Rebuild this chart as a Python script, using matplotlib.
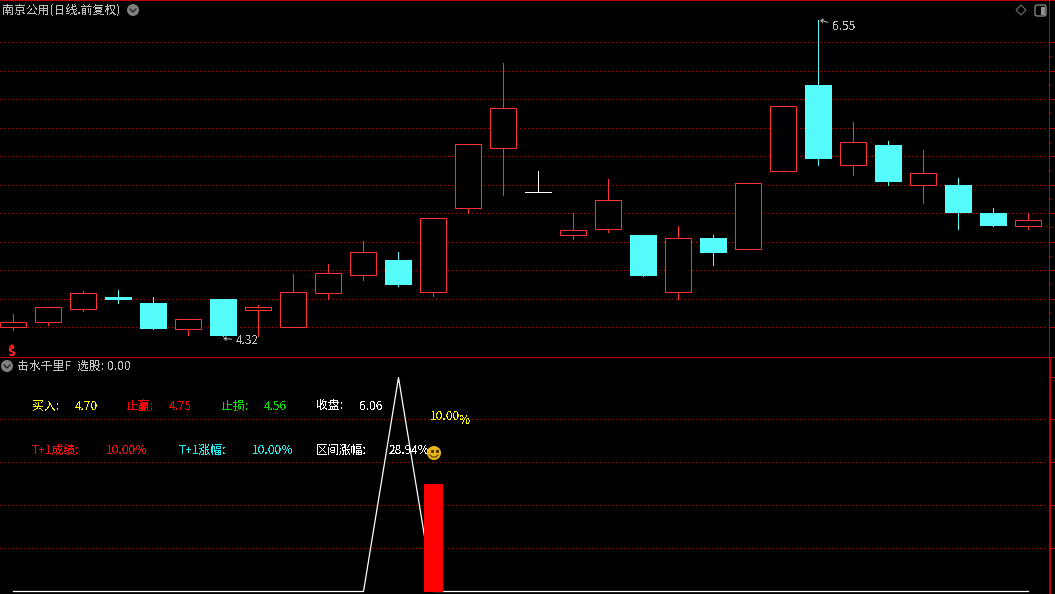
import numpy as np
import matplotlib
matplotlib.use('Agg')
import matplotlib.pyplot as plt
from matplotlib.patches import Circle, Rectangle, FancyBboxPatch, Polygon

plt.rcParams['font.family'] = ['Noto Sans CJK SC', 'DejaVu Sans']
plt.rcParams['text.antialiased'] = False

# K线数据
opens = [4.379, 4.414, 4.506, 4.596, 4.553, 4.365, 4.581, 4.499, 4.379, 4.619,
         4.746, 4.857, 4.626, 5.222, 5.644, 5.336, 5.029, 5.071, 5.034, 4.626,
         5.013, 4.930, 5.481, 6.094, 5.524, 5.670, 5.382, 5.387, 5.189, 5.092]
closes = [4.417, 4.523, 4.622, 4.574, 4.369, 4.438, 4.320, 4.523, 4.629, 4.763,
          4.912, 4.680, 5.152, 5.675, 5.929, 5.336, 5.067, 5.279, 4.744, 5.010,
          4.907, 5.399, 5.943, 5.571, 5.689, 5.408, 5.470, 5.189, 5.097, 5.138]
highs = [4.475, 4.523, 4.638, 4.645, 4.596, 4.438, 4.581, 4.539, 4.758, 4.829,
         4.991, 4.914, 5.152, 5.675, 6.249, 5.486, 5.187, 5.430, 5.034, 5.097,
         5.034, 5.399, 5.943, 6.550, 5.832, 5.698, 5.635, 5.437, 5.225, 5.189]
lows = [4.362, 4.396, 4.492, 4.553, 4.369, 4.322, 4.320, 4.320, 4.379, 4.579,
        4.716, 4.673, 4.603, 5.187, 5.316, 5.336, 5.006, 5.055, 4.744, 4.581,
        4.822, 4.930, 5.481, 5.529, 5.458, 5.387, 5.260, 5.076, 5.097, 5.076]
price_grid = [6.398, 6.193, 5.995, 5.790, 5.592, 5.387, 5.189, 4.984, 4.786, 4.581, 4.384]

# 副图指标
signal_line = [0, 0, 0, 0, 0, 0, 0, 0, 0, 0, 0, 1, 0, 0, 0, 0, 0, 0, 0, 0,
               0, 0, 0, 0, 0, 0, 0, 0, 0, 0]
signal_bar_idx = [12]
signal_bar_val = [0.5]
sub_grid = [0.2, 0.4, 0.6, 0.8]
sub_ticks = [0.2, 0.4, 0.6, 0.8, 1.0]
sub_minor = [0.3, 0.5, 0.7, 0.9]

RED = '#ff3232'
CYAN = '#54fcfc'
AXIS = '#c00000'
GRID = '#b80000'
GRAY = '#c0c0c0'

W, H = 1055, 594
fig = plt.figure(figsize=(W / 100, H / 100), dpi=100, facecolor='black')

def pane(top, bottom):
    a = fig.add_axes([0, 1 - bottom / H, 1049 / W, (bottom - top) / H])
    a.set_facecolor('black')
    a.set_xlim(-13.3 / 35, (1049 - 13.3) / 35)
    for s in ['top', 'left', 'bottom']:
        a.spines[s].set_visible(False)
    a.spines['right'].set_color(AXIS)
    a.spines['right'].set_linewidth(0.72)
    a.yaxis.tick_right()
    a.set_xticks([])
    a.tick_params(axis='y', which='both', colors=AXIS, labelright=False)
    a.tick_params(axis='y', which='major', length=4.3, width=0.72)
    a.tick_params(axis='y', which='minor', length=1.5, width=0.72)
    return a

ax = pane(1, 357)
ax.set_ylim(4.169, 6.685)
ax.set_yticks(price_grid)
ax.set_yticks((np.array(price_grid[:-1]) + np.array(price_grid[1:])) / 2, minor=True)
xend = (1045 - 13.3) / 35
ax.hlines(price_grid, -13.3 / 35, xend, colors=GRID, linewidth=0.72,
          linestyles=[(0, (1, 3))], antialiased=False, capstyle='butt')

x = np.arange(len(opens))
o = np.array(opens)
c = np.array(closes)
colors = [RED if b > a else ('white' if b == a else CYAN) for a, b in zip(o, c)]
ax.vlines(x, lows, highs, colors=colors, linewidth=0.72, antialiased=False, zorder=2)
for i in x:
    bottom = min(o[i], c[i])
    height = abs(o[i] - c[i])
    if colors[i] == CYAN:
        ax.bar(i, height, 27 / 35, bottom, color=CYAN, linewidth=0, zorder=3)
    elif colors[i] == RED:
        ax.bar(i, height, 26 / 35, bottom, facecolor='black', edgecolor=RED,
               linewidth=0.72, zorder=3)
    else:
        ax.hlines(o[i], i - 13 / 35, i + 13 / 35, colors='white', linewidth=0.72,
                  antialiased=False, zorder=3)

ax.annotate('4.32', xy=(6, 4.30), xytext=(236, 594 - 340.5), textcoords='figure pixels',
            color=GRAY, fontsize=8.6, va='center',
            arrowprops=dict(arrowstyle='->,head_length=0.2,head_width=0.15', color=GRAY,
                            lw=0.7, shrinkA=1, shrinkB=0))
ax.annotate('6.55', xy=(23.05, 6.55), xytext=(832, 594 - 27), textcoords='figure pixels',
            color=GRAY, fontsize=8.6, va='center',
            arrowprops=dict(arrowstyle='->,head_length=0.2,head_width=0.15', color=GRAY,
                            lw=0.7, shrinkA=1, shrinkB=0))

sub = pane(358, H)
sub.set_ylim(-0.0159, 1.0874)
sub.set_yticks(sub_ticks)
sub.set_yticks(sub_minor, minor=True)
sub.hlines(sub_grid, -13.3 / 35, xend, colors=GRID, linewidth=0.72,
           linestyles=[(0, (1, 3))], antialiased=False, capstyle='butt')
sub.plot(x, signal_line, color='white', linewidth=0.9, zorder=3, snap=True)
bar_floor = -0.006
sub.bar(signal_bar_idx, np.array(signal_bar_val) - bar_floor, 19 / 35, bottom=bar_floor,
        color='#ff0000', linewidth=0, zorder=4)

# 叠加层: 文字, 图标
ov = fig.add_axes([0, 0, 1, 1])
ov.set_xlim(0, W)
ov.set_ylim(H, 0)
ov.axis('off')
ov.patch.set_alpha(0)

ov.hlines(0, 0, W, colors=AXIS, linewidth=0.72)
ov.hlines(357, 0, W, colors=AXIS, linewidth=0.72)
ov.vlines(1050, 358, H, colors=AXIS, linewidth=1.44)

def label(px, py, s, color, size=8.6):
    ov.text(px, py, s, color=color, fontsize=size, ha='left', va='center')

def chevron(cx, cy):
    ov.add_patch(Circle((cx, cy), 6, color='#808080', linewidth=0))
    ov.plot([cx - 3, cx, cx + 3], [cy - 1, cy + 2, cy - 1], color='#202020', linewidth=0.9)

label(2, 10, '南京公用(日线.前复权)', GRAY)
chevron(133, 10)
ov.add_patch(Polygon([(1021, 5), (1026, 10), (1021, 15), (1016, 10)], fill=False,
                     edgecolor='#707070', linewidth=0.8))
ov.add_patch(FancyBboxPatch((1036, 6), 9, 9, boxstyle='round,pad=1,rounding_size=2',
                            fill=False, edgecolor='#909090', linewidth=0.9))
ov.add_patch(Rectangle((1041, 7), 4, 8, color='#909090', linewidth=0))

ov.text(12.5, 352, 'S', color='#ff2020', fontsize=8.6, fontweight='bold', ha='center', va='center')
ov.add_patch(Polygon([(9, 347), (12, 344), (15, 347)], color='#ff2020', linewidth=0))

chevron(7, 366)
label(17, 366, '击水千里F', GRAY)
label(77, 366, '选股:', GRAY)
label(107, 366, '0.00', GRAY)

row1 = [(32, '买入:', '#ffff00'), (75, '4.70', '#ffff00'),
        (126, '止赢:', '#ff0000'), (169, '4.75', '#ff0000'),
        (221, '止损:', '#00e000'), (264, '4.56', '#00e000'),
        (316, '收盘:', '#ffffff'), (359, '6.06', '#ffffff')]
row2 = [(32, 'T+1成绩:', '#e81010'), (106, '10.00%', '#e81010'),
        (179, 'T+1涨幅:', '#20f0f0'), (252, '10.00%', '#20f0f0'),
        (316, '区间涨幅:', '#ffffff'), (389, '28.94%', '#ffffff')]
for px, s, col in row1:
    label(px, 406, s, col)
for px, s, col in row2:
    label(px, 450, s, col)
label(430, 417, '10.00', '#ffff00')
label(460, 420, '%', '#ffff00')

ov.add_patch(Circle((434, 453), 7, color='#e8b818', linewidth=0, zorder=5))
ov.plot([431.5, 436.5], [450.5, 450.5], linestyle='none', marker='s', markersize=1.2,
        color='#503000', zorder=6)
ov.plot([430, 432, 436, 438], [455, 457, 457, 455], color='#503000', linewidth=0.8, zorder=6)

fig.savefig('out.png', dpi=100, facecolor='black')
